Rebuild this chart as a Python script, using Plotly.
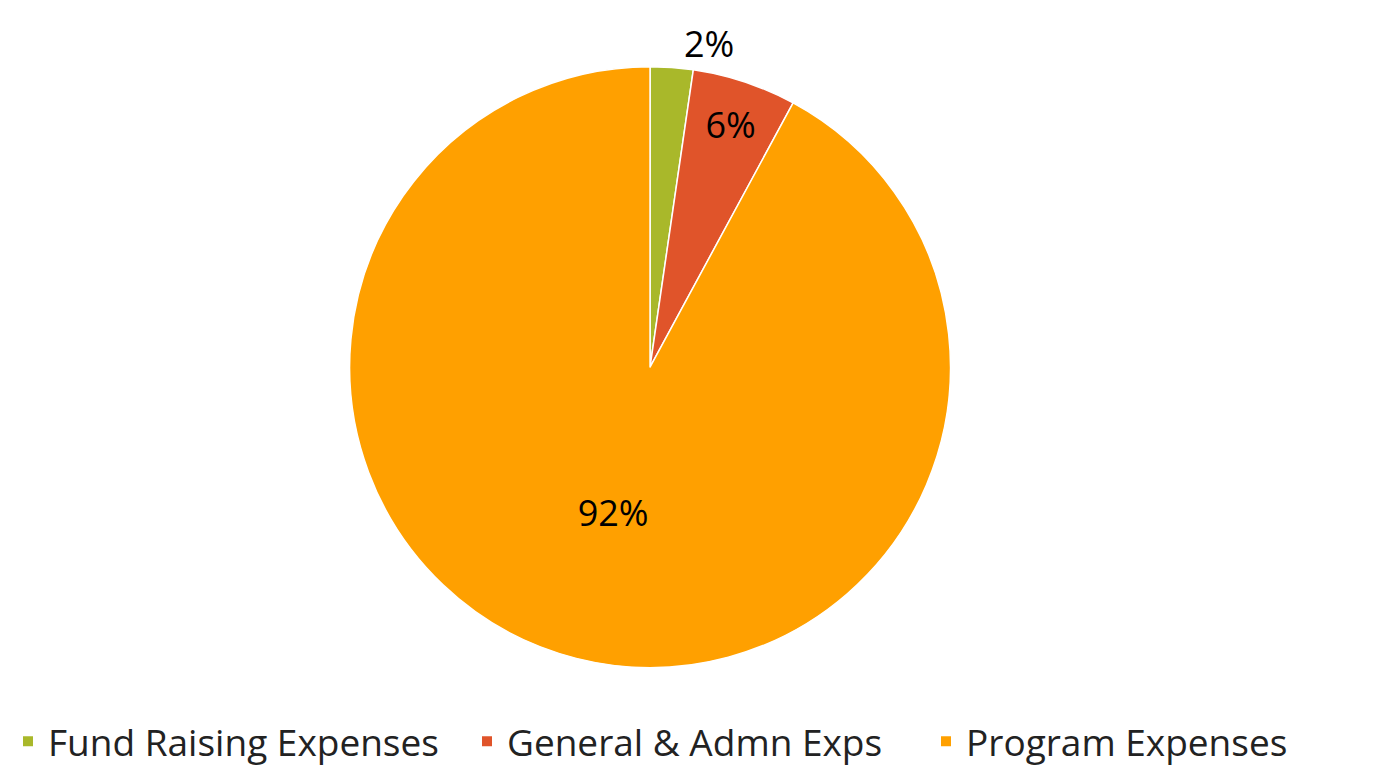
import plotly.graph_objects as go

categories = ["Fund Raising Expenses", "General & Admn Exps", "Program Expenses"]
values = [2.3, 5.6, 92.1]
colors = ["#A9B82A", "#E0542A", "#FFA000"]
text_positions = ["outside", "inside", "inside"]

fig = go.Figure(go.Pie(
    labels=categories,
    values=values,
    sort=False,
    direction="clockwise",
    rotation=0,
    marker=dict(colors=colors, line=dict(color="white", width=1.5)),
    textinfo="percent",
    texttemplate="%{percent:.0%}",
    textposition=text_positions,
    insidetextfont=dict(color="black", size=36, family="Open Sans"),
    outsidetextfont=dict(color="black", size=36, family="Open Sans"),
    domain=dict(x=[0.2471, 0.6861], y=[0.1333, 0.9229]),
))

fig.update_layout(
    width=1376, height=765,
    margin=dict(l=0, r=0, t=0, b=0),
    paper_bgcolor="white",
    plot_bgcolor="white",
    font=dict(family="Open Sans", color="black"),
    legend=dict(
        orientation="h",
        x=0.03, xanchor="left",
        y=-0.005, yanchor="bottom",
        font=dict(size=37, color="#222222"),
        entrywidth=414,
        itemsizing="constant",
    ),
)

fig.write_html("out.html")
